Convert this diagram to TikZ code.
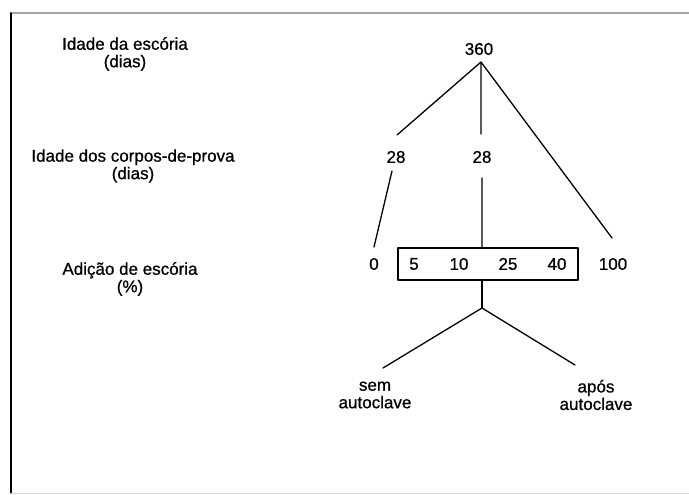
\documentclass[tikz,border=0pt]{standalone}
\usepackage{fontspec}
\setmainfont[FakeBold=0.8]{Liberation Sans}
\begin{document}
\begin{tikzpicture}[x=1pt, y=-1pt, line join=round, line cap=round, line width=1.3pt,
	every node/.style={font=\fontsize{17}{17.5}\selectfont, inner sep=0pt},
	rotulo/.style={align=center}]
	\useasboundingbox (0,0) rectangle (689,495);
	% moldura
	\draw[gray!70, line width=1.8pt] (689,13)--(11,13);
	\draw[line width=1.8pt] (11,13)--(11,493);
	\draw[gray!30, line width=.8pt] (11,493)--(689,493);
	% rotulos da esquerda
	\node[rotulo] (idesc) at (125,54) {Idade da escória\\(dias)};
	\node[rotulo] (idcp) at (133,166) {Idade dos corpos-de-prova\\(dias)};
	\node[rotulo] (adic) at (130,279) {Adição de escória\\(\%)};
	% arvore
	\node (e360) at (479,49) {360};
	\coordinate (topo) at (481,62);
	\node (c28a) at (396,157) {28};
	\node (c28b) at (482,157) {28};
	\coordinate (fa) at (397,135); \coordinate (fb) at (481,134); \coordinate (fc) at (612,238);
	\draw (fa)--(topo)--(fc) (topo)--(fb);
	\node[draw, minimum width=180pt, minimum height=32pt] (caixa) at (488,264) {};
	\foreach \x/\v in {414/5,459/10,508/25,557/40} \node (p\v) at (\x,264) {\v};
	\node (p0) at (374,264) {0};
	\node (p100) at (613,264) {100};
	\coordinate (ga) at (392,171); \coordinate (gb) at (374,247);
	\coordinate (hb) at (482,178);
	\draw (ga)--(gb) (hb)--(hb|-caixa.north);
	\coordinate (bif) at (482,308);
	\draw (bif|-caixa.south)--(bif);
	\coordinate (sa) at (383,368); \coordinate (sb) at (575,365);
	\draw (sa)--(bif)--(sb);
	\node[rotulo] (sem) at (375,395) {sem\\autoclave};
	\node[rotulo] (apos) at (596,395) {após\\autoclave};
\end{tikzpicture}
\end{document}
